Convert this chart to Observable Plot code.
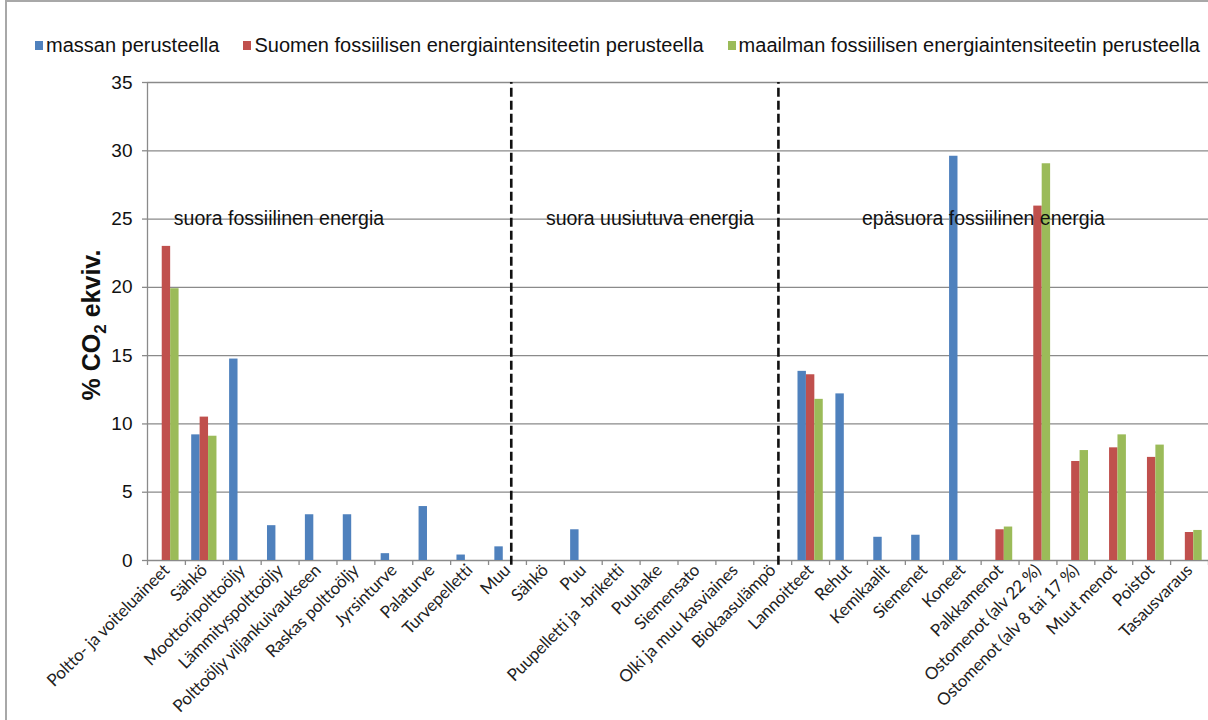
<!DOCTYPE html>
<html>
<head>
<meta charset="utf-8">
<script src="https://cdn.jsdelivr.net/npm/d3@7"></script>
<script src="https://cdn.jsdelivr.net/npm/@observablehq/plot@0.6"></script>
<style>
  body { margin: 0; background: #fff; }
  #wrap { position: relative; width: 1208px; height: 720px; overflow: hidden; background: #fff;
          font-family: "Liberation Sans", Arial, sans-serif; }
  #frame { position: absolute; left: 5px; top: 0; width: 1220px; height: 740px;
           border-left: 2px solid #a8a8a8; border-top: 2px solid #a8a8a8; pointer-events: none; }
  #legend { height: 62px; box-sizing: border-box; padding: 28px 0 0 35px; line-height: 20px;
            font-size: 20px; color: #111; white-space: nowrap; display: flex; }
  #legend .item { display: flex; align-items: center; margin-right: 24px; }
  #legend .sw { width: 8px; height: 9px; margin-right: 3px; }
  #chart svg { display: block; }
  #chart [aria-label="y-axis tick"] { stroke: #8a8a8a; stroke-width: 1.3; }
  #chart [aria-label="x-axis tick"] { stroke: #8a8a8a; stroke-width: 1.3; }
  #chart [aria-label="x-axis tick label"] { letter-spacing: -0.2px; }
</style>
</head>
<body>
<div id="wrap">
  <div id="legend"></div>
  <div id="chart"></div>
  <div id="frame"></div>
</div>
<script>
// Cost categories along the x axis (note: "Sähkö" appears in two groups)
const categories = [
  "Poltto- ja voiteluaineet", "Sähkö", "Moottoripolttoöljy", "Lämmityspolttoöljy",
  "Polttoöljy viljankuivaukseen", "Raskas polttoöljy", "Jyrsinturve", "Palaturve",
  "Turvepelletti", "Muu",
  "Sähkö", "Puu", "Puupelletti ja -briketti", "Puuhake", "Siemensato",
  "Olki ja muu kasviaines", "Biokaasulämpö",
  "Lannoitteet", "Rehut", "Kemikaalit", "Siemenet", "Koneet", "Palkkamenot",
  "Ostomenot (alv 22 %)", "Ostomenot (alv 8 tai 17 %)", "Muut menot", "Poistot", "Tasausvaraus"
];

// Series names (legend order)
const seriesNames = [
  "massan perusteella",
  "Suomen fossiilisen energiaintensiteetin perusteella",
  "maailman fossiilisen energiaintensiteetin perusteella"
];
const seriesColors = ["#4f81bd", "#c0504d", "#9bbb59"];

// Share of CO2 equivalents, % — one value per category
const massan = [
  0, 9.2, 14.75, 2.55, 3.35, 3.35, 0.5, 3.95, 0.4, 1.0,
  0, 2.25, 0, 0, 0, 0, 0,
  13.85, 12.2, 1.7, 1.85, 29.6, 0, 0, 0, 0, 0, 0
];
const suomen = [
  23.0, 10.5, 0, 0, 0, 0, 0, 0, 0, 0,
  0, 0, 0, 0, 0, 0, 0,
  13.6, 0, 0, 0, 0, 2.25, 25.95, 7.25, 8.25, 7.55, 2.05
];
const maailman = [
  19.9, 9.1, 0, 0, 0, 0, 0, 0, 0, 0,
  0, 0, 0, 0, 0, 0, 0,
  11.8, 0, 0, 0, 0, 2.45, 29.05, 8.05, 9.2, 8.45, 2.2
];

// Group headings and the dashed separators between groups (in category units)
const groupNames = ["suora fossiilinen energia", "suora uusiutuva energia", "epäsuora fossiilinen energia"];
const groupLabelAt = [3.47, 13.26, 22.06];
const dividers = [9.6, 16.65];

const yTicks = [0, 5, 10, 15, 20, 25, 30, 35];

// Legend
const legend = d3.select("#legend");
seriesNames.forEach((name, k) => {
  const item = legend.append("div").attr("class", "item");
  item.append("div").attr("class", "sw").style("background", seriesColors[k]);
  item.append("span").text(name);
});

// Long table: one row per category × series
const seriesValues = [massan, suomen, maailman];
const rows = [];
seriesValues.forEach((vals, s) => vals.forEach((v, i) => {
  if (v > 0) rows.push({i, s, series: seriesNames[s], value: v});
}));

// Clustered layout: the three bars take 2/3 of each category slot
const gap = 0.5;
const barW = 1 / (1 + gap) / 3;
const lead = gap / (1 + gap) / 2;

const n = categories.length;
const plot = Plot.plot({
  width: 1208,
  height: 658,
  marginTop: 20,
  marginBottom: 160,
  marginLeft: 147,
  marginRight: 0,
  x: {type: "linear", domain: [0, n], axis: null},
  y: {domain: [0, 35], axis: null},
  color: {domain: seriesNames, range: seriesColors},
  style: {fontFamily: "'Liberation Sans', Arial, sans-serif", background: "white", overflow: "visible"},
  marks: [
    Plot.ruleY(yTicks.filter(d => d > 0), {stroke: "#8a8a8a", strokeWidth: 1.3}),
    Plot.ruleY([0], {stroke: "#8a8a8a", strokeWidth: 1.3}),
    Plot.ruleX([0], {y1: 0, y2: 35, stroke: "#8a8a8a", strokeWidth: 1.3}),
    Plot.axisY({ticks: yTicks, tickSize: 5, tickPadding: 10, fontSize: 19, label: null, color: "#111"}),
    Plot.axisX({ticks: d3.range(0, n + 1), tickSize: 5, tickFormat: () => "", label: null}),
    Plot.axisX({
      ticks: d3.range(n).map(i => i + 0.5),
      tickFormat: (d, k) => categories[k],
      tickSize: 0,
      tickPadding: 7,
      tickRotate: -45,
      fontSize: 17,
      fontFamily: "Lato, 'Open Sans', sans-serif",
      color: "#222",
      label: null
    }),
    Plot.rectY(rows, {
      x1: d => d.i + lead + d.s * barW,
      x2: d => d.i + lead + (d.s + 1) * barW,
      y1: 0,
      y2: "value",
      fill: "series"
    }),
    Plot.ruleX(dividers, {y1: -0.35, y2: 35, stroke: "#111", strokeWidth: 2.6, strokeDasharray: "9,4"}),
    Plot.text(groupNames, {
      x: (d, k) => groupLabelAt[k],
      y: () => 25,
      text: d => d,
      fontSize: 19.5,
      fill: "#111",
      textAnchor: "middle"
    })
  ]
});
document.getElementById("chart").append(plot);

// Rotated y-axis title with subscript
const svg = d3.select(plot);
const title = svg.append("text")
  .attr("transform", "translate(100,263) rotate(-90)")
  .attr("text-anchor", "middle")
  .attr("font-family", "'Liberation Sans', Arial, sans-serif")
  .attr("font-weight", "bold")
  .attr("font-size", 25)
  .attr("fill", "#111");
title.append("tspan").text("% CO");
title.append("tspan").attr("font-size", 17).attr("dy", 6).text("2");
title.append("tspan").attr("dy", -6).text(" ekviv.");
</script>
</body>
</html>
